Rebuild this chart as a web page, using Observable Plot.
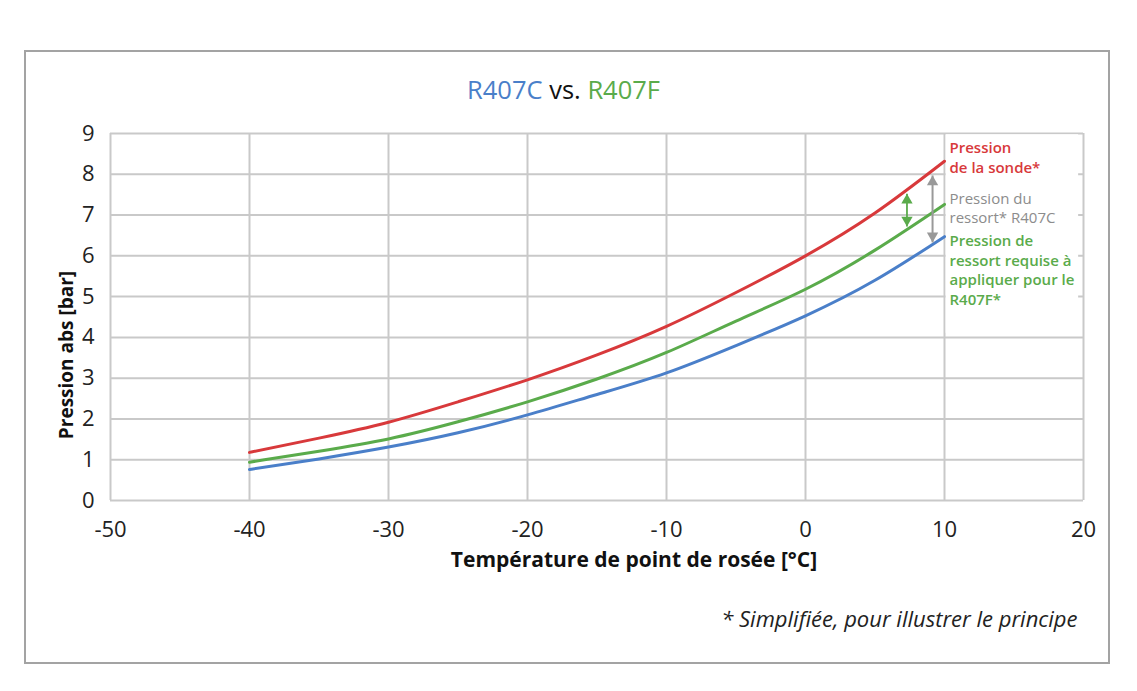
<!DOCTYPE html>
<html>
<head>
<meta charset="utf-8">
<script src="https://cdn.jsdelivr.net/npm/d3@7"></script>
<script src="https://cdn.jsdelivr.net/npm/@observablehq/plot@0.6"></script>
<style>
  html, body { margin: 0; padding: 0; background: #fff; }
  body { width: 1137px; height: 691px; position: relative; overflow: hidden; font-family: "Open Sans", "Noto Sans", sans-serif; }
  #frame { position: absolute; left: 24px; top: 50px; width: 1082px; height: 610px; border: 2px solid #a3a3a3; }
  #title { position: absolute; left: 0; width: 1127px; top: 71px; text-align: center; font-size: 25.5px; line-height: 36px; }
  #chart { position: absolute; left: 0; top: 110px; }
</style>
</head>
<body>
<div id="frame"></div>
<div id="title"><span style="color:#4a7fc9">R407C</span> <span style="color:#111">vs.</span> <span style="color:#5aab4b">R407F</span></div>
<div id="chart"></div>
<script>
// ---- data ----
const temps = [-40, -35, -30, -25, -20, -15, -10, -5, 0, 5, 10];
const probePressure   = [1.18, 1.53, 1.92, 2.42, 2.96, 3.57, 4.27, 5.10, 6.00, 7.05, 8.32]; // red
const springR407F     = [0.94, 1.21, 1.51, 1.93, 2.42, 2.98, 3.63, 4.40, 5.18, 6.14, 7.26]; // green
const springR407C     = [0.76, 1.02, 1.31, 1.66, 2.10, 2.60, 3.13, 3.80, 4.53, 5.40, 6.47]; // blue
const xTicks = [-50, -40, -30, -20, -10, 0, 10, 20];
const yTicks = [0, 1, 2, 3, 4, 5, 6, 7, 8, 9];

const RED = "#d8393b", GREEN = "#5aab4b", BLUE = "#4a7fc9", GRAY = "#999999";

const seriesNames = ["sonde", "R407F", "R407C"];
const seriesValues = [probePressure, springR407F, springR407C];
const seriesColors = [RED, GREEN, BLUE];

// double arrows: x position, bottom and top values
const arrowX = [9.14, 7.3];
const arrowTop = [7.97, 7.52];
const arrowBottom = [6.33, 6.72];
const arrowColors = [GRAY, GREEN];
const arrowWidths = [2, 1.8];

// annotation labels at right of the curves
const labelTexts = ["Pression\nde la sonde*", "Pression du\nressort* R407C", "Pression de\nressort requise à\nappliquer pour le\nR407F*"];
const labelY = [8.86, 7.62, 6.58];
const labelColors = [RED, "#8c8c8c", GREEN];
const labelWeights = [600, 400, 600];
// area behind the labels (hides the grid there)
const labelBox = [{x1: 10.12, x2: 19.65, y1: 4.1, y2: 8.97}];

// ---- build tables ----
const rows = seriesNames.flatMap((s, i) => temps.map((t, j) => ({s, t, p: seriesValues[i][j]})));
const arrows = arrowX.map((x, i) => ({x, y1: arrowBottom[i], y2: arrowTop[i], c: arrowColors[i], w: arrowWidths[i]}));

const gridStyle = {stroke: "#c9c9c9", strokeOpacity: 1, strokeWidth: 2};

const marks = [
  Plot.gridY(yTicks, gridStyle),
  Plot.gridX(xTicks, gridStyle),
  Plot.rect(labelBox, {x1: "x1", x2: "x2", y1: "y1", y2: "y2", fill: "white"}),
  ...seriesNames.map((s, i) => Plot.line(rows.filter(r => r.s === s), {x: "t", y: "p", stroke: seriesColors[i], strokeWidth: 3, curve: "natural"})),
  ...arrows.map(a => Plot.link([a], {x1: "x", x2: "x", y1: "y1", y2: "y2", stroke: a.c, strokeWidth: a.w})),
  ...arrows.map(a => Plot.dot([a], {x: "x", y: "y2", symbol: "triangle", r: 4.2, fill: a.c, stroke: "none", dy: 6.5})),
  ...arrows.map(a => Plot.dot([a], {x: "x", y: "y1", symbol: "triangle", r: 4.2, fill: a.c, stroke: "none", dy: -6.5, rotate: 180})),
  ...labelTexts.map((txt, i) => Plot.text([txt], {x: 10, y: labelY[i], text: d => d, textAnchor: "start", lineAnchor: "top", dx: 5, fill: labelColors[i], fontWeight: labelWeights[i], fontSize: 15, lineHeight: 1.3})),
  Plot.text(["Pression abs [bar]"], {frameAnchor: "left", text: d => d, textAnchor: "middle", rotate: -90, dx: -44, dy: 38, fontSize: 19, fontWeight: 700, fill: "#111"}),
  Plot.text(["Température de point de rosée [°C]"], {frameAnchor: "bottom", text: d => d, textAnchor: "middle", dx: 37, dy: 66, fontSize: 21, fontWeight: 700, fill: "#111"}),
  Plot.text(["* Simplifiée, pour illustrer le principe"], {frameAnchor: "bottom-right", text: d => d, textAnchor: "end", dx: -6, dy: 126, fontSize: 22, fontStyle: "italic", fill: "#222"})
];

const chart = Plot.plot({
  width: 1137,
  height: 581,
  marginLeft: 110,
  marginRight: 54,
  marginTop: 23,
  marginBottom: 191,
  style: {fontFamily: "'Open Sans', 'Noto Sans', sans-serif", fontSize: "22px", color: "#222", background: "transparent", overflow: "visible"},
  x: {domain: [-50, 20], ticks: xTicks, tickSize: 0, tickPadding: 21, tickFormat: d => String(d), label: null},
  y: {domain: [0, 9], ticks: yTicks, tickSize: 0, tickPadding: 16, tickFormat: d => String(d), label: null},
  marks
});
document.getElementById("chart").appendChild(chart);
</script>
</body>
</html>
